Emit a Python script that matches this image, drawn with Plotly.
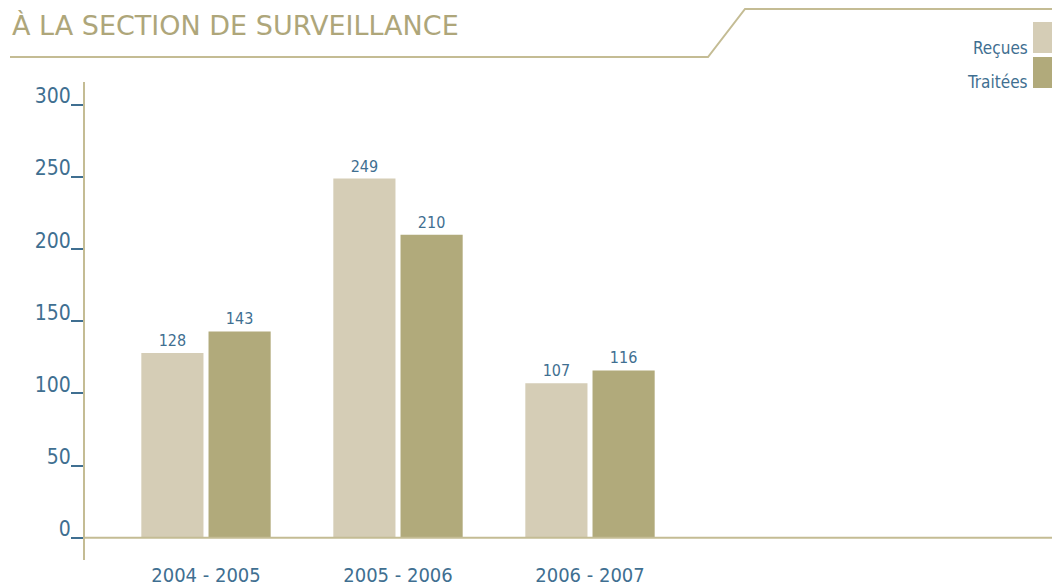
import plotly.graph_objects as go

# Data
periods = ["2004 - 2005", "2005 - 2006", "2006 - 2007"]
recues = [128, 249, 107]
traitees = [143, 210, 116]
series_names = ["Reçues", "Traitées"]
y_ticks = [0, 50, 100, 150, 200, 250, 300]
title_text = "À LA SECTION DE SURVEILLANCE"

# Styling
W, H = 1052, 587
ML, MR, MT, MB = 85, 0, 82, 27
LIGHT = "#d5cdb6"
DARK = "#b1aa7b"
KHAKI = "#aea67a"
LINE = "#c4bc94"
BLUE = "#3f6f91"
FONT = "DejaVu Sans Condensed, sans-serif"
TITLE_FONT = "DejaVu Sans, sans-serif"

PW, PH = W - ML - MR, H - MT - MB


def px(x):
    return (x - ML) / PW


def py(y):
    return (H - MB - y) / PH


fig = go.Figure()
for name, vals, col in zip(series_names, [recues, traitees], [LIGHT, DARK]):
    fig.add_trace(go.Bar(
        x=periods, y=vals, name=name, marker=dict(color=col, line=dict(width=0)),
        text=[str(v) for v in vals], textposition="outside",
        textfont=dict(family=FONT, size=16, color=BLUE),
        cliponaxis=False, showlegend=False,
    ))

shapes = []
# baseline at zero
shapes.append(dict(type="line", xref="paper", yref="y", x0=0, x1=1, y0=0, y1=0,
                   line=dict(color=LINE, width=2)))
# header rule with slanted step
path = "M {} {} L {} {} L {} {} L {} {}".format(
    px(10), py(57), px(708), py(57), px(745), py(9), px(1052), py(9))
shapes.append(dict(type="path", xref="paper", yref="paper", path=path,
                   line=dict(color=LINE, width=2)))

annotations = [dict(
    text=title_text, xref="paper", yref="paper", x=px(10), y=py(26),
    xanchor="left", yanchor="middle", showarrow=False,
    font=dict(family=TITLE_FONT, size=27, color=KHAKI),
)]

# legend: label to the left of a square swatch
legend_rows = [(22, 53, 48), (57, 88, 82)]
for name, col, (top, bot, ty) in zip(series_names, [LIGHT, DARK], legend_rows):
    shapes.append(dict(type="rect", xref="paper", yref="paper",
                       x0=px(1033), x1=px(1052), y0=py(bot), y1=py(top),
                       fillcolor=col, line=dict(width=0)))
    annotations.append(dict(
        text=name, xref="paper", yref="paper", x=px(1030), y=py(ty),
        xanchor="right", yanchor="middle", showarrow=False,
        font=dict(family=FONT, size=17, color=BLUE),
    ))

# y scale: zero at 537.7 px, 300 at 105 px
ppu = (537.7 - 105) / 300
y_top = (537.7 - MT) / ppu
y_bot = -((H - MB) - 537.7) / ppu

spacing = 192
x0 = -(206 - ML) / spacing
x1 = x0 + PW / spacing

fig.update_layout(
    width=W, height=H,
    margin=dict(l=ML, r=MR, t=MT, b=MB, pad=0, autoexpand=False),
    paper_bgcolor="white", plot_bgcolor="white",
    barmode="group", bargap=0.30, bargroupgap=0.075,
    shapes=shapes, annotations=annotations,
    xaxis=dict(
        type="category", range=[x0, x1], showline=False, showgrid=False,
        zeroline=False, ticks="", automargin=False,
        tickfont=dict(family=FONT, size=20, color=BLUE),
        ticklabelstandoff=1,
    ),
    yaxis=dict(
        range=[y_bot, y_top], showline=True, linecolor=LINE, linewidth=2,
        showgrid=False, zeroline=False, tickvals=y_ticks, automargin=False,
        ticks="outside", ticklen=12, tickwidth=2, tickcolor=BLUE,
        ticklabelshift=-9, ticklabelstandoff=-4,
        tickfont=dict(family=FONT, size=21, color=BLUE),
    ),
)

fig.write_html("out.html")
